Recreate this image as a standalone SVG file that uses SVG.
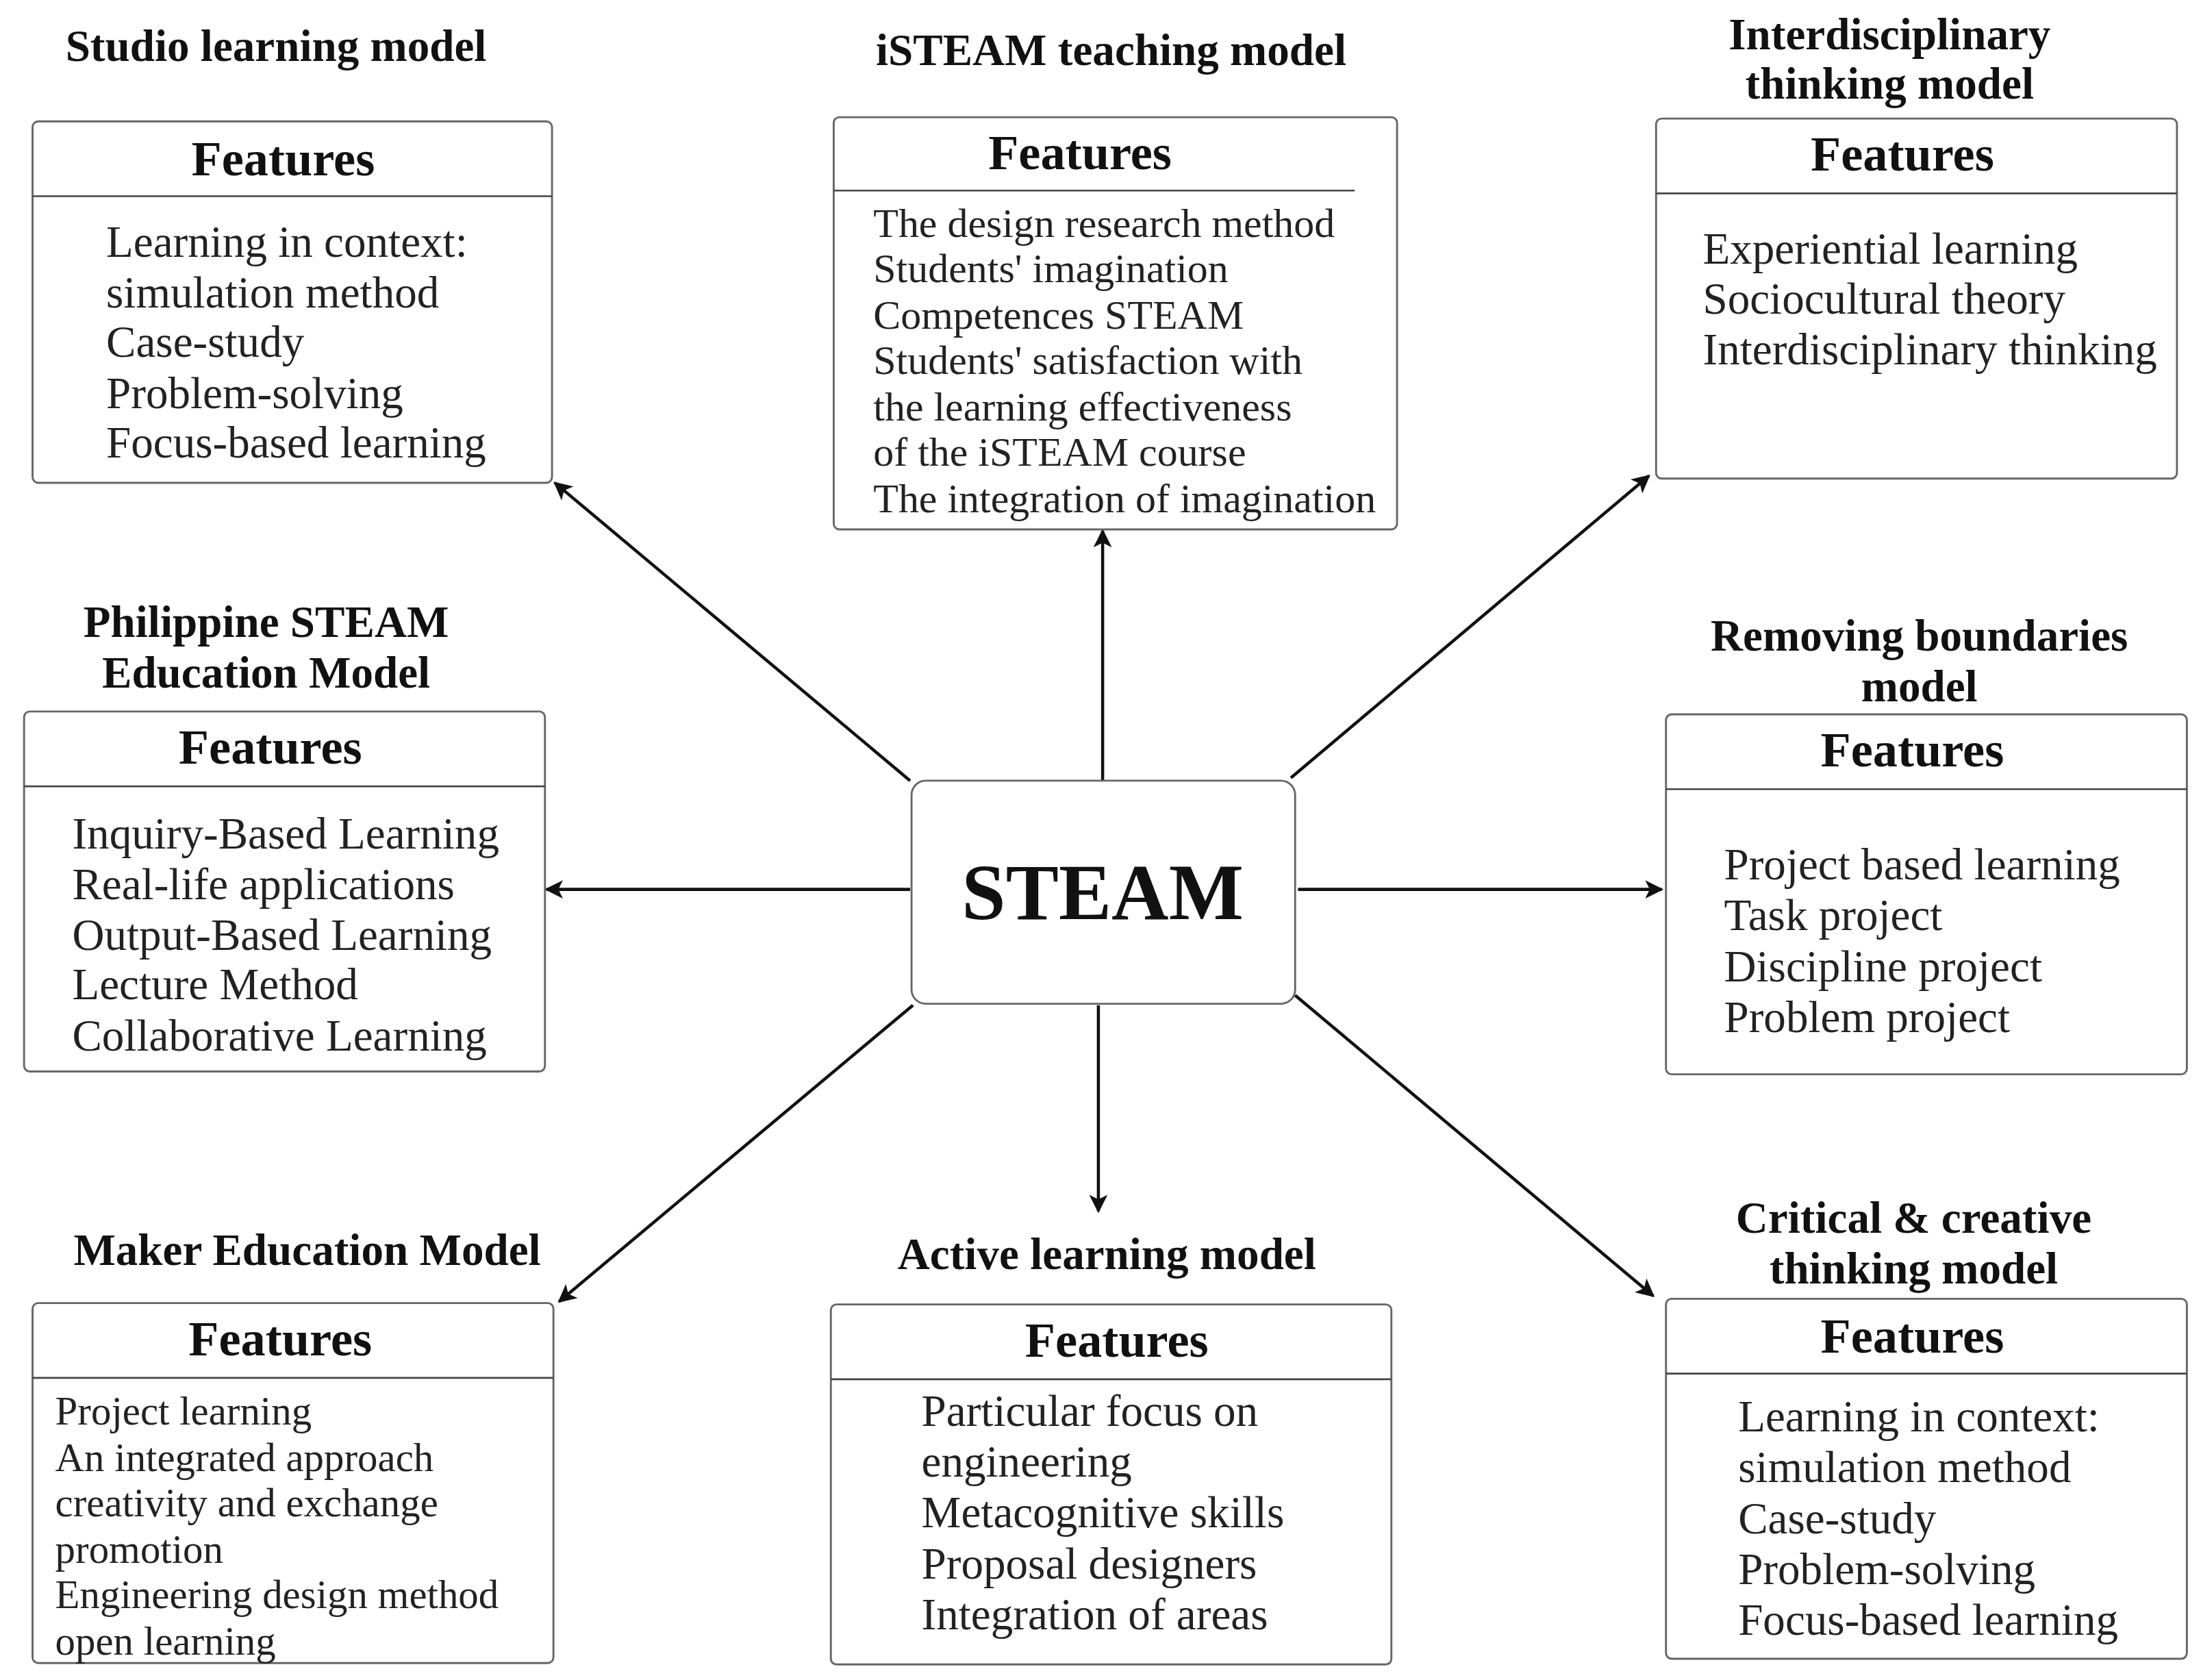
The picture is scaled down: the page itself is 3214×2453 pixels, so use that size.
<svg xmlns="http://www.w3.org/2000/svg" width="3214" height="2453" viewBox="0 0 3214 2453">
<style>
.bx{fill:#fff;stroke:#666;stroke-width:1.4}
.hl{stroke:#444;stroke-width:1.3}
.tt{font-family:"Liberation Serif",serif;font-weight:bold;font-size:31.5px;fill:#111;text-anchor:middle}
.fh{font-family:"Liberation Serif",serif;font-weight:bold;font-size:35px;fill:#111;text-anchor:middle}
.ft{font-family:"Liberation Serif",serif;font-size:31.5px;fill:#222}
.fi{font-family:"Liberation Serif",serif;font-size:29px;fill:#222}
.fs{font-family:"Liberation Serif",serif;font-size:28.5px;fill:#222}
.ar{stroke:#111;stroke-width:2.2;fill:none;marker-end:url(#ah)}
</style>
<defs><marker id="ah" viewBox="0 0 10 10" refX="9" refY="5" markerWidth="13" markerHeight="13" orient="auto" markerUnits="userSpaceOnUse"><path d="M0,0 L10,5 L0,10 L2.5,5 z" fill="#111"/></marker></defs>
<rect width="3214" height="2453" fill="#fff"/>
<g transform="scale(2.0669 2.0613)">
<g id="connectors">
<line class="ar" x1="643" y1="553" x2="392" y2="342"/>
<line class="ar" x1="779" y1="553" x2="779" y2="376"/>
<line class="ar" x1="912" y1="551" x2="1165" y2="337"/>
<line class="ar" x1="643" y1="630" x2="386" y2="630"/>
<line class="ar" x1="917" y1="630" x2="1174" y2="630"/>
<line class="ar" x1="645" y1="712" x2="395" y2="922"/>
<line class="ar" x1="776" y1="712" x2="776" y2="858"/>
<line class="ar" x1="915" y1="705" x2="1168" y2="918"/>
</g>
<g id="steam"><rect class="bx" x="644" y="553" width="271" height="158" rx="10"/>
<text x="779" y="651" style="font-family:'Liberation Serif',serif;font-weight:bold;font-size:56px;text-anchor:middle;fill:#111">STEAM</text></g>
<g id="studio"><text class="tt" x="195" y="43">Studio learning model</text>
<rect class="bx" x="23" y="86" width="367" height="256" rx="4"/><line class="hl" x1="23" y1="139" x2="390" y2="139"/>
<text class="fh" x="200" y="124">Features</text>
<text class="ft" x="75" y="182">Learning in context:</text><text class="ft" x="75" y="218">simulation method</text><text class="ft" x="75" y="253">Case-study</text><text class="ft" x="75" y="289">Problem-solving</text><text class="ft" x="75" y="324">Focus-based learning</text></g>
<g id="isteam"><text class="tt" x="785" y="46">iSTEAM teaching model</text>
<rect class="bx" x="589" y="83" width="398" height="292" rx="4"/><line class="hl" x1="589" y1="135" x2="957" y2="135"/>
<text class="fh" x="763" y="120">Features</text>
<text class="fi" x="617" y="168">The design research method</text><text class="fi" x="617" y="200">Students' imagination</text><text class="fi" x="617" y="233">Competences STEAM</text><text class="fi" x="617" y="265">Students' satisfaction with</text><text class="fi" x="617" y="298">the learning effectiveness</text><text class="fi" x="617" y="330">of the iSTEAM course</text><text class="fi" x="617" y="363">The integration of imagination</text></g>
<g id="interdisciplinary"><text class="tt" x="1335" y="35">Interdisciplinary</text><text class="tt" x="1335" y="70">thinking model</text>
<rect class="bx" x="1170" y="84" width="368" height="255" rx="4"/><line class="hl" x1="1170" y1="137" x2="1538" y2="137"/>
<text class="fh" x="1344" y="121">Features</text>
<text class="ft" x="1203" y="187">Experiential learning</text><text class="ft" x="1203" y="222">Sociocultural theory</text><text class="ft" x="1203" y="258">Interdisciplinary thinking</text></g>
<g id="philippine"><text class="tt" x="188" y="451">Philippine STEAM</text><text class="tt" x="188" y="487">Education Model</text>
<rect class="bx" x="17" y="504" width="368" height="255" rx="4"/><line class="hl" x1="17" y1="557" x2="385" y2="557"/>
<text class="fh" x="191" y="541">Features</text>
<text class="ft" x="51" y="601">Inquiry-Based Learning</text><text class="ft" x="51" y="637">Real-life applications</text><text class="ft" x="51" y="673">Output-Based Learning</text><text class="ft" x="51" y="708">Lecture Method</text><text class="ft" x="51" y="744">Collaborative Learning</text></g>
<g id="removing"><text class="tt" x="1356" y="461">Removing boundaries</text><text class="tt" x="1356" y="497">model</text>
<rect class="bx" x="1177" y="506" width="368" height="255" rx="4"/><line class="hl" x1="1177" y1="559" x2="1545" y2="559"/>
<text class="fh" x="1351" y="543">Features</text>
<text class="ft" x="1218" y="623">Project based learning</text><text class="ft" x="1218" y="659">Task project</text><text class="ft" x="1218" y="695">Discipline project</text><text class="ft" x="1218" y="731">Problem project</text></g>
<g id="maker"><text class="tt" x="217" y="896">Maker Education Model</text>
<rect class="bx" x="23" y="923" width="368" height="255" rx="4"/><line class="hl" x1="23" y1="976" x2="391" y2="976"/>
<text class="fh" x="198" y="960">Features</text>
<text class="fs" x="39" y="1009">Project learning</text><text class="fs" x="39" y="1042">An integrated approach</text><text class="fs" x="39" y="1074">creativity and exchange</text><text class="fs" x="39" y="1107">promotion</text><text class="fs" x="39" y="1139">Engineering design method</text><text class="fs" x="39" y="1172">open learning</text></g>
<g id="active"><text class="tt" x="782" y="899">Active learning model</text>
<rect class="bx" x="587" y="924" width="396" height="255" rx="4"/><line class="hl" x1="587" y1="977" x2="983" y2="977"/>
<text class="fh" x="789" y="961">Features</text>
<text class="ft" x="651" y="1010">Particular focus on</text><text class="ft" x="651" y="1046">engineering</text><text class="ft" x="651" y="1082">Metacognitive skills</text><text class="ft" x="651" y="1118">Proposal designers</text><text class="ft" x="651" y="1154">Integration of areas</text></g>
<g id="critical"><text class="tt" x="1352" y="873">Critical &amp; creative</text><text class="tt" x="1352" y="909">thinking model</text>
<rect class="bx" x="1177" y="920" width="368" height="255" rx="4"/><line class="hl" x1="1177" y1="973" x2="1545" y2="973"/>
<text class="fh" x="1351" y="958">Features</text>
<text class="ft" x="1228" y="1014">Learning in context:</text><text class="ft" x="1228" y="1050">simulation method</text><text class="ft" x="1228" y="1086">Case-study</text><text class="ft" x="1228" y="1122">Problem-solving</text><text class="ft" x="1228" y="1158">Focus-based learning</text></g>
</g>
</svg>
